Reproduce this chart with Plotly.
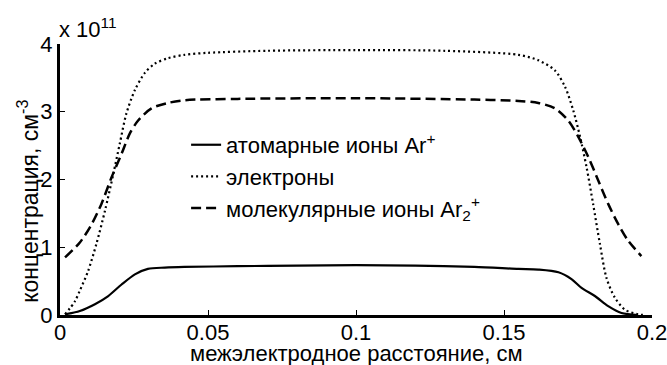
import plotly.graph_objects as go

# values in units of 1e11 cm^-3
x_ion = [0.0017, 0.0067, 0.0118, 0.0163, 0.0208, 0.0253, 0.0297, 0.0354, 0.042, 0.06, 0.08, 0.1,
         0.12, 0.14, 0.1549, 0.1616, 0.1684, 0.1728, 0.1762, 0.1807, 0.1852, 0.1897, 0.1953]
y_ion = [0.01, 0.06, 0.16, 0.28, 0.45, 0.60, 0.68, 0.70, 0.71, 0.72, 0.73, 0.735,
         0.73, 0.71, 0.68, 0.67, 0.63, 0.53, 0.40, 0.28, 0.13, 0.03, 0.0]

x_el = [0.0017, 0.005, 0.0067, 0.0095, 0.0123, 0.0152, 0.018, 0.0202, 0.0224, 0.0253, 0.0286, 0.032,
        0.0365, 0.042, 0.05, 0.07, 0.1, 0.13, 0.1549, 0.1616, 0.1672, 0.1706, 0.1734, 0.1757, 0.1779,
        0.1801, 0.1824, 0.1846, 0.1874, 0.1908, 0.1953, 0.198]
y_el = [0.01, 0.2, 0.36, 0.65, 1.05, 1.54, 2.08, 2.53, 2.97, 3.32, 3.57, 3.71,
        3.79, 3.84, 3.87, 3.9, 3.91, 3.9, 3.84, 3.76, 3.61, 3.37, 3.02, 2.63, 2.18,
        1.64, 1.05, 0.55, 0.26, 0.08, 0.01, 0.0]

x_mol = [0.0017, 0.0067, 0.0107, 0.014, 0.0174, 0.0208, 0.0236, 0.0264, 0.0309, 0.0365, 0.042, 0.06,
         0.1, 0.14, 0.1549, 0.1616, 0.1672, 0.1717, 0.1751, 0.1785, 0.1818, 0.1852, 0.1886, 0.1919, 0.1964]
y_mol = [0.85, 1.07, 1.34, 1.64, 2.03, 2.38, 2.68, 2.87, 3.05, 3.13, 3.17, 3.19,
         3.2, 3.18, 3.16, 3.13, 3.05, 2.87, 2.63, 2.33, 1.99, 1.64, 1.34, 1.10, 0.87]

x_ticks = [0, 0.05, 0.1, 0.15, 0.2]
x_ticklabels = ["0", "0.05", "0.1", "0.15", "0.2"]
y_ticks = [0, 1, 2, 3, 4]
y_ticklabels = ["0", "1", "2", "3", "4"]

names = ["атомарные ионы Ar<sup>+</sup>", "электроны", "молекулярные ионы Ar<sub>2</sub><sup>+</sup>"]
x_title = "межэлектродное расстояние, см"
y_title = "концентрация, см<sup>-3</sup>"
scale_label = "x 10<sup>11</sup>"

FONT = "Liberation Sans, Arial, sans-serif"

fig = go.Figure()
fig.add_trace(go.Scatter(x=x_ion, y=y_ion, mode="lines", name=names[0],
                         line=dict(color="black", width=2.2, shape="spline", smoothing=0.8)))
fig.add_trace(go.Scatter(x=x_el, y=y_el, mode="lines", name=names[1],
                         line=dict(color="black", width=2.2, dash="2px,3px", shape="spline", smoothing=0.8)))
fig.add_trace(go.Scatter(x=x_mol, y=y_mol, mode="lines", name=names[2],
                         line=dict(color="black", width=2.5, dash="10px,5px", shape="spline", smoothing=0.8)))

axis_common = dict(showline=True, linewidth=3, linecolor="black", ticks="inside", ticklen=5,
                   tickwidth=1, tickcolor="black", showgrid=False, zeroline=False, mirror=False,
                   automargin=False, ticklabeloverflow="allow",
                   tickfont=dict(family=FONT, size=22, color="black"))

fig.update_layout(
    width=667, height=365,
    margin=dict(l=60, r=15, t=44, b=50),
    paper_bgcolor="white", plot_bgcolor="white",
    font=dict(family=FONT, size=22, color="black"),
    xaxis=dict(range=[0, 0.2], tickvals=x_ticks, ticktext=x_ticklabels, ticklabelstandoff=-4,
               **axis_common),
    yaxis=dict(range=[0, 4], tickvals=y_ticks, ticktext=y_ticklabels, **axis_common),
    legend=dict(x=0.213, y=0.705, xanchor="left", yanchor="top", bgcolor="rgba(0,0,0,0)",
                borderwidth=0, font=dict(family=FONT, size=22, color="black"), tracegroupgap=0),
    showlegend=True,
)
fig.add_annotation(text=x_title, xref="paper", yref="paper", x=0.5, y=-0.141,
                   xanchor="center", yanchor="middle", showarrow=False,
                   font=dict(family=FONT, size=22, color="black"))
fig.add_annotation(text=y_title, xref="paper", yref="paper", x=-0.053, y=0.42,
                   xanchor="center", yanchor="middle", showarrow=False, textangle=-90,
                   font=dict(family=FONT, size=23, color="black"))
fig.add_annotation(text=scale_label, xref="paper", yref="paper", x=0, y=1,
                   xanchor="left", yanchor="bottom", showarrow=False, xshift=-3, yshift=0,
                   font=dict(family=FONT, size=22, color="black"))

fig.write_html("out.html", post_script="document.body.style.margin='0';",
               config={"displayModeBar": False})
